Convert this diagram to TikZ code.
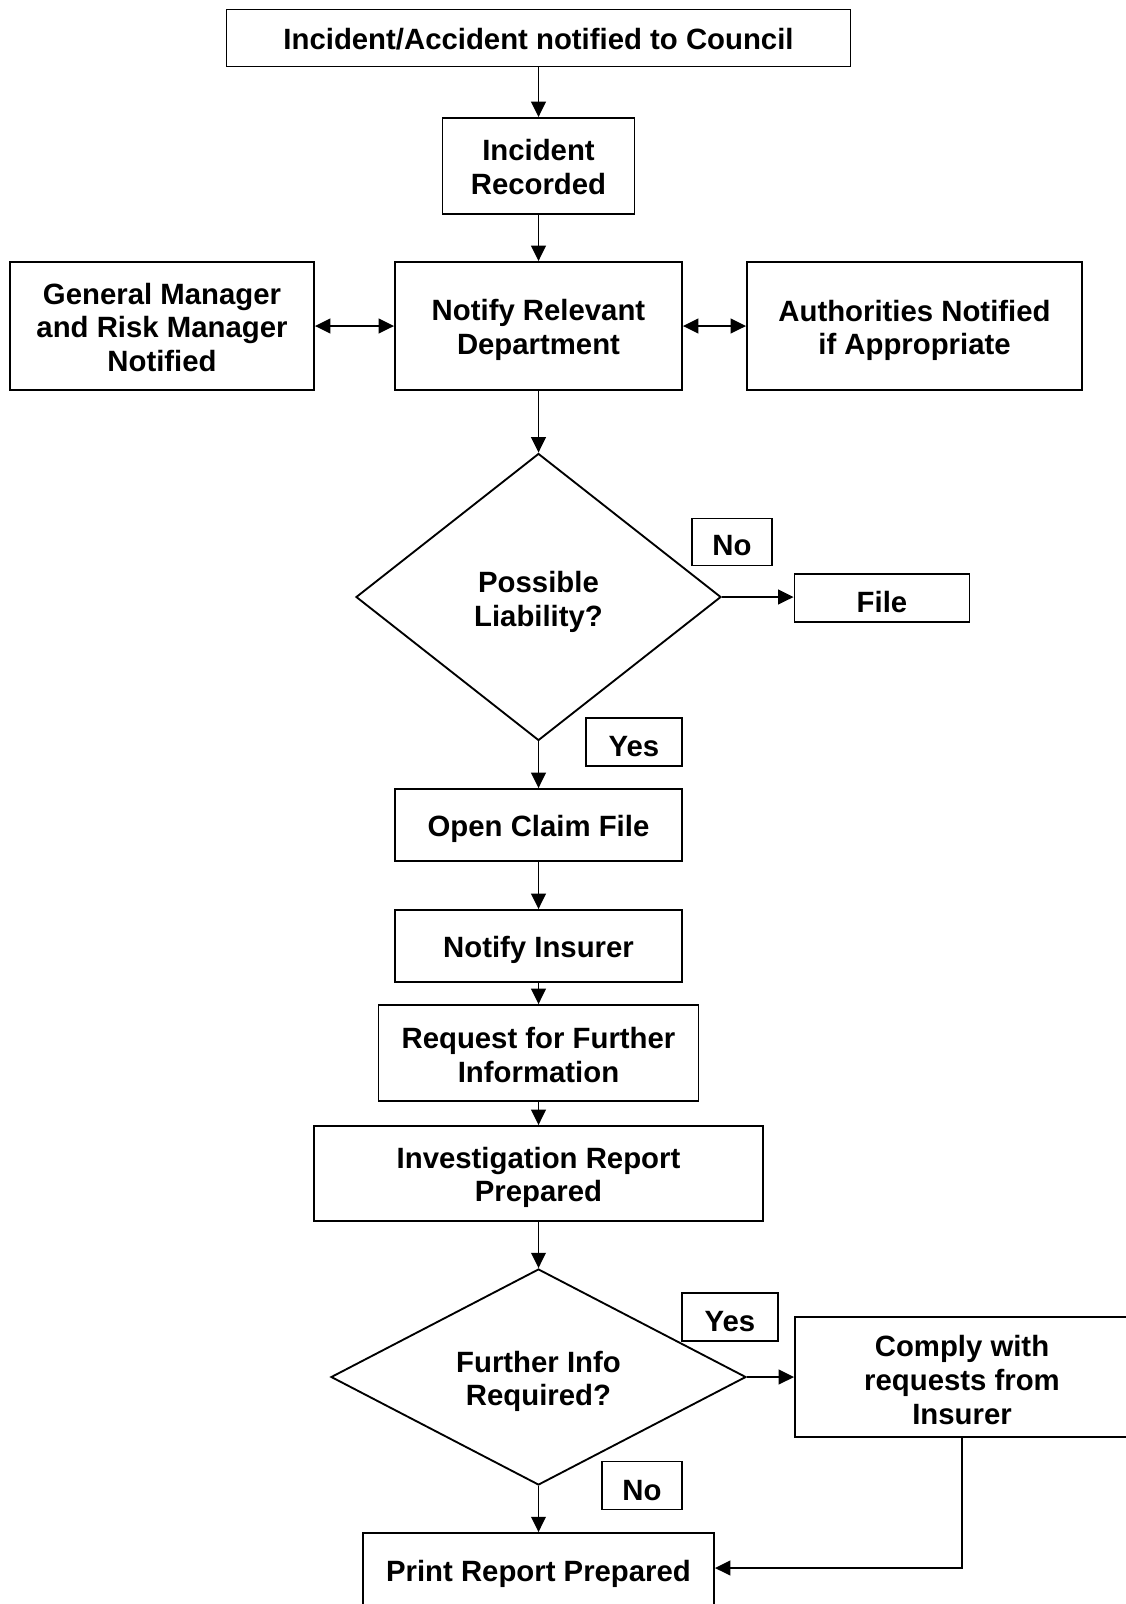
\documentclass[tikz,border=0pt]{standalone}
\usepackage{fontspec}
\setmainfont{Liberation Sans}
\usetikzlibrary{shapes.geometric,arrows.meta}
\tikzset{
  wh/.style 2 args={minimum width=#1*0.75pt, minimum height=#2*0.75pt},
  txt/.style={align=center, inner sep=0pt,
    font=\fontsize{22pt}{25.2pt}\selectfont\bfseries},
  tx/.style 2 args={label={[txt, yshift=-#1*0.75pt]center:{#2}}},
  box/.style={draw, line width=1.4pt, inner sep=0pt},
  dia/.style={draw, diamond, line width=1.4pt, inner sep=0pt},
  arr/.style={line width=1.4pt, -{Triangle[length=11.5pt,width=11pt]}},
  darr/.style={line width=1.4pt, {Triangle[length=11.5pt,width=11pt]}-{Triangle[length=11.5pt,width=11pt]}}
}
\begin{document}
\begin{tikzpicture}[x=0.75pt,y=-0.75pt]
\useasboundingbox[fill=white] (0,0) rectangle (1126,1604);
\node[box, wh={624}{57}, tx={1}{Incident/Accident notified to Council}] (top) at (538.5,38) {};
\node[box, wh={192}{96}, tx={1}{Incident\\Recorded}] (rec) at (538.5,166) {};
\node[box, wh={287}{128}, tx={4}{Notify Relevant\\Department}] (nrd) at (538.5,326) {};
\node[box, wh={304}{128}, tx={1.5}{General Manager\\and Risk Manager\\Notified}] (gm) at (162,326) {};
\node[box, wh={335}{128}, tx={4.5}{Authorities Notified\\if Appropriate}] (auth) at (914.5,326) {};
\node[dia, wh={365}{287}, tx={5}{Possible\\Liability?}] (d1) at (538.5,597) {};
\node[box, wh={80}{47}, tx={4}{No}] (no1) at (732,542) {};
\node[box, wh={175}{48}, tx={4}{File}] (file) at (882,598) {};
\node[box, wh={96}{48}, tx={5}{Yes}] (yes1) at (634,742) {};
\node[box, wh={287}{72}, tx={4}{Open Claim File}] (ocf) at (538.5,825) {};
\node[box, wh={287}{72}, tx={4}{Notify Insurer}] (ni) at (538.5,946) {};
\node[box, wh={320}{96}, tx={2}{Request for Further\\Information}] (req) at (538.5,1053) {};
\node[box, wh={449}{95}, tx={4}{Investigation Report\\Prepared}] (inv) at (538.5,1173.5) {};
\node[dia, wh={415}{216}, tx={4.5}{Further Info\\Required?}] (d2) at (538.5,1377) {};
\node[box, wh={96}{48}, tx={5}{Yes}] (yes2) at (730,1317) {};
\node[box, wh={334}{120}, tx={3}{Comply with\\requests from\\Insurer}] (comply) at (962,1377) {};
\node[box, wh={80}{48}, tx={5}{No}] (no2) at (642,1485.5) {};
\node[box, wh={351}{74}, tx={4}{Print Report Prepared}] (print) at (538.5,1570) {};

\draw[arr] (top) -- (rec);
\draw[arr] (rec) -- (nrd);
\draw[darr] (gm) -- (nrd);
\draw[darr] (nrd) -- (auth);
\draw[arr] (nrd.south) -- (d1.north);
\draw[arr] (d1.east) -- (d1.east -| file.west);
\draw[arr] (d1.south) -- (ocf.north);
\draw[arr] (ocf) -- (ni);
\draw[arr] (ni) -- (req);
\draw[arr] (req) -- (inv);
\draw[arr] (inv.south) -- (d2.north);
\draw[arr] (d2.east) -- (d2.east -| comply.west);
\draw[arr] (d2.south) -- (print.north);
\draw[arr] (comply.south) |- ([yshift=1.5pt]print.east);
\end{tikzpicture}
\end{document}
